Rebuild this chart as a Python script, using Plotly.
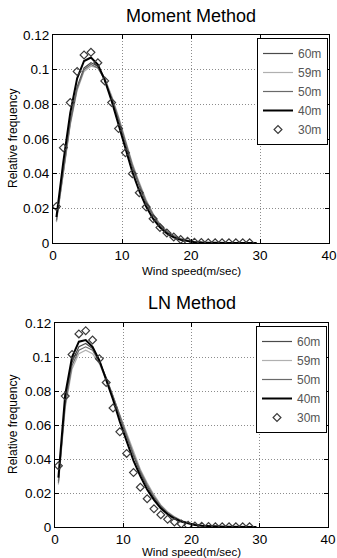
import plotly.graph_objects as go

# ---------------- data ----------------
x_bins = [i + 0.5 for i in range(30)]
x_obs = [i + 0.5 for i in range(29)]

# Moment Method
mm_60 = [0.013, 0.043, 0.070, 0.090, 0.101, 0.104, 0.102, 0.095, 0.084, 0.071, 0.057, 0.044, 0.033, 0.023, 0.016, 0.010,
         0.0065, 0.004, 0.0023, 0.0013, 0.0007, 0.0004, 0.0002, 0.0001, 0.00005, 0.00002, 0.00001, 0, 0, 0]
mm_59 = [0.012, 0.041, 0.068, 0.088, 0.099, 0.102, 0.101, 0.095, 0.085, 0.073, 0.059, 0.046, 0.035, 0.025, 0.017, 0.011,
         0.007, 0.0044, 0.0026, 0.0015, 0.0008, 0.0004, 0.0002, 0.0001, 0.00005, 0.00002, 0.00001, 0, 0, 0]
mm_50 = [0.013, 0.042, 0.069, 0.089, 0.100, 0.103, 0.101, 0.094, 0.084, 0.072, 0.058, 0.045, 0.034, 0.024, 0.0165, 0.0105,
         0.0068, 0.0042, 0.0025, 0.0014, 0.0008, 0.0004, 0.0002, 0.0001, 0.00005, 0.00002, 0.00001, 0, 0, 0]
mm_40 = [0.015, 0.047, 0.075, 0.095, 0.105, 0.107, 0.103, 0.094, 0.082, 0.068, 0.054, 0.041, 0.030, 0.021, 0.014, 0.009,
         0.0055, 0.0032, 0.0018, 0.0010, 0.0005, 0.0003, 0.00015, 0.00007, 0.00003, 0.00001, 0, 0, 0, 0]
mm_30 = [0.021, 0.055, 0.081, 0.099, 0.1085, 0.110, 0.104, 0.0935, 0.081, 0.066, 0.052, 0.040, 0.029, 0.0207, 0.014, 0.009,
         0.0058, 0.0035, 0.002, 0.001, 0.0005, 0.0003, 0.0002, 0.0001, 0.0001, 0.0001, 0.0001, 0.0001, 0.0001]

# LN Method
ln_60 = [0.027, 0.074, 0.097, 0.106, 0.108, 0.105, 0.098, 0.088, 0.077, 0.065, 0.053, 0.042, 0.032, 0.024, 0.017, 0.012,
         0.008, 0.0055, 0.0035, 0.0022, 0.0013, 0.0008, 0.0005, 0.0003, 0.0002, 0.0001, 0.00006, 0.00003, 0.00002, 0.00001]
ln_59 = [0.025, 0.070, 0.093, 0.102, 0.104, 0.102, 0.096, 0.087, 0.077, 0.066, 0.055, 0.044, 0.034, 0.026, 0.019, 0.013,
         0.009, 0.006, 0.004, 0.0025, 0.0015, 0.0009, 0.0006, 0.0004, 0.0002, 0.0001, 0.00007, 0.00004, 0.00002, 0.00001]
ln_50 = [0.026, 0.072, 0.095, 0.104, 0.106, 0.104, 0.097, 0.088, 0.077, 0.065, 0.054, 0.043, 0.033, 0.025, 0.018, 0.0125,
         0.0085, 0.0058, 0.0037, 0.0023, 0.0014, 0.0008, 0.0005, 0.0003, 0.0002, 0.0001, 0.00006, 0.00003, 0.00002, 0.00001]
ln_40 = [0.029, 0.078, 0.100, 0.109, 0.110, 0.106, 0.098, 0.087, 0.075, 0.062, 0.050, 0.039, 0.030, 0.022, 0.016, 0.011,
         0.0075, 0.005, 0.0032, 0.002, 0.0012, 0.0007, 0.0004, 0.00025, 0.00015, 0.0001, 0.00005, 0.00003, 0.00002, 0.00001]
ln_30 = [0.036, 0.077, 0.1015, 0.1136, 0.1155, 0.110, 0.099, 0.085, 0.070, 0.056, 0.0433, 0.032, 0.0234, 0.0166, 0.0107,
         0.0072, 0.0045, 0.003, 0.0018, 0.001, 0.0006, 0.0004, 0.0003, 0.0002, 0.0001, 0.0001, 0.0001, 0.0001, 0.0001]

series_names = ["60m", "59m", "50m", "40m"]
series_colors = ["#4a4a4a", "#b0b0b0", "#6a6a6a", "#000000"]
series_widths = [1.2, 1.2, 1.2, 2.0]
y_ticks = [0, 0.02, 0.04, 0.06, 0.08, 0.1, 0.12]
y_tick_text = ["0", "0.02", "0.04", "0.06", "0.08", "0.1", "0.12"]
x_ticks = [0, 10, 20, 30, 40]
titles = ["Moment Method", "LN Method"]
x_title = "Wind speed(m/sec)"
y_title = "Relative frequency"

W, H = 337, 558
FONT = "Liberation Sans, Arial, sans-serif"

fig = go.Figure()

panels = [
    (mm_60, mm_59, mm_50, mm_40, mm_30),
    (ln_60, ln_59, ln_50, ln_40, ln_30),
]
suffixes = ["", "2"]
legends = ["legend", "legend2"]
for p, data in enumerate(panels):
    xa = "x" + suffixes[p]
    ya = "y" + suffixes[p]
    for i in range(4):
        fig.add_trace(go.Scatter(
            x=x_bins, y=data[i], mode="lines", name=series_names[i],
            line=dict(color=series_colors[i], width=series_widths[i]),
            xaxis=xa, yaxis=ya, legend=legends[p]))
    fig.add_trace(go.Scatter(
        x=x_obs, y=data[4], mode="markers", name="30m",
        marker=dict(symbol="diamond-open", size=6, color="#3a3a3a", line=dict(width=1.2)),
        xaxis=xa, yaxis=ya, legend=legends[p]))


def fx(px):
    return px / W


def fy(py):
    return 1 - py / H


top = dict(l=53, r=329, t=35, b=243, title_y=16, xt_y=271)
bot = dict(l=55, r=328, t=323, b=527, title_y=303, xt_y=552)

axis_common = dict(
    showline=True, linecolor="#000", linewidth=1, mirror="allticks",
    ticks="inside", ticklen=4, tickcolor="#000",
    showgrid=True, gridcolor="#8c8c8c", griddash="1px,2px", gridwidth=1,
    zeroline=False, tickfont=dict(family=FONT, size=13.5, color="#000"),
    automargin=False, ticklabeloverflow="allow",
)

layout = dict(
    width=W, height=H, margin=dict(l=0, r=0, t=0, b=0, autoexpand=False),
    paper_bgcolor="white", plot_bgcolor="white",
    font=dict(family=FONT, color="#000"),
    showlegend=True,
)
for p, box in enumerate([top, bot]):
    s = suffixes[p]
    layout["xaxis" + s] = dict(
        axis_common, domain=[fx(box["l"]), fx(box["r"])], range=[0, 40],
        tickvals=x_ticks, anchor="y" + s,
    )
    layout["yaxis" + s] = dict(
        axis_common, domain=[fy(box["b"]), fy(box["t"])], range=[0, 0.12],
        tickvals=y_ticks, ticktext=y_tick_text, anchor="x" + s,
    )
    layout[legends[p]] = dict(
        x=fx(box["r"] - 1), xanchor="right", y=fy(box["t"] + 3), yanchor="top",
        bgcolor="white", bordercolor="#000", borderwidth=1,
        font=dict(family=FONT, size=12, color="#555"),
        tracegroupgap=0, itemwidth=30,
    )

fig.update_layout(**layout)

for p, box in enumerate([top, bot]):
    cx = fx((box["l"] + box["r"]) / 2)
    fig.add_annotation(
        text=titles[p], x=cx, y=fy(box["title_y"]),
        xref="paper", yref="paper", showarrow=False,
        font=dict(family=FONT, size=18, color="#000"), xanchor="center", yanchor="middle")
    fig.add_annotation(
        text=x_title, x=cx, y=fy(box["xt_y"]),
        xref="paper", yref="paper", showarrow=False,
        font=dict(family=FONT, size=11.5, color="#000"), xanchor="center", yanchor="middle")
    fig.add_annotation(
        text=y_title, x=fx(13), y=fy((box["t"] + box["b"]) / 2),
        xref="paper", yref="paper", showarrow=False, textangle=-90,
        font=dict(family=FONT, size=12, color="#000"), xanchor="center", yanchor="middle")

fig.write_html("out.html",
               config={"displayModeBar": False},
               post_script="document.body.style.margin='0';document.body.style.overflow='hidden';")
